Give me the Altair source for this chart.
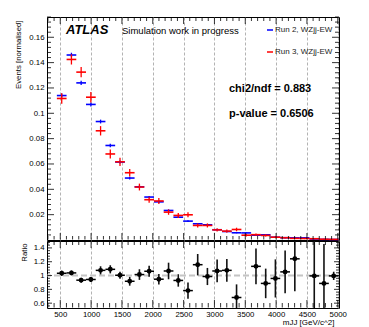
import altair as alt
import pandas as pd
import numpy as np

# ---------------- data ----------------
bin_edges = [445.0, 602.5, 760.0, 917.5, 1075.0, 1232.5, 1390.0, 1547.5, 1705.0, 1862.5,
             2020.0, 2177.5, 2335.0, 2492.5, 2650.0, 2807.5, 2965.0, 3122.5, 3280.0, 3437.5,
             3595.0, 3752.5, 3910.0, 4067.5, 4225.0, 4382.5, 4540.0, 4697.5, 4855.0, 5012.5]

run2_vals = [0.1140, 0.1460, 0.1240, 0.1070, 0.0935, 0.0746, 0.0615, 0.0489, 0.0420, 0.0339,
             0.0301, 0.0233, 0.0180, 0.0149, 0.0128, 0.0120, 0.0081, 0.0067, 0.0057, 0.0056,
             0.0038, 0.0041, 0.0022, 0.0018, 0.0017, 0.0017, 0.0008, 0.0005, 0.0004]
run2_errs = [0.0016, 0.0018, 0.0017, 0.0016, 0.0015, 0.0013, 0.0012, 0.0011, 0.0010, 0.0009,
             0.0009, 0.0008, 0.0007, 0.0006, 0.0006, 0.0006, 0.0005, 0.0004, 0.0004, 0.0004,
             0.0003, 0.0003, 0.0003, 0.0002, 0.0002, 0.0002, 0.0002, 0.0001, 0.0001]
run3_vals = [0.1117, 0.1425, 0.1325, 0.1127, 0.0862, 0.0679, 0.0617, 0.0531, 0.0418, 0.0318,
             0.0308, 0.0220, 0.0194, 0.0199, 0.0115, 0.0115, 0.0080, 0.0070, 0.0083, 0.0038,
             0.0042, 0.0036, 0.0022, 0.0018, 0.0013, 0.0012, 0.0010, 0.0006, 0.0005]
run3_errs = [0.0042, 0.0040, 0.0040, 0.0042, 0.0037, 0.0035, 0.0032, 0.0030, 0.0027, 0.0024,
             0.0024, 0.0021, 0.0020, 0.0020, 0.0016, 0.0016, 0.0013, 0.0012, 0.0014, 0.0010,
             0.0010, 0.0009, 0.0007, 0.0006, 0.0005, 0.0005, 0.0005, 0.0004, 0.0003]

ratio_vals = [1.033, 1.038, 0.933, 0.943, 1.075, 1.090, 1.004, 0.917, 1.014, 1.062,
              0.947, 1.066, 0.929, 0.782, 1.157, 0.986, 1.066, 1.075, 0.682, None,
              1.133, 0.886, 0.958, 1.053, 1.242, None, 0.995, 0.886, 0.995]
ratio_errs = [0.038, 0.035, 0.036, 0.036, 0.059, 0.059, 0.052, 0.064, 0.077, 0.079,
              0.077, 0.120, 0.090, 0.117, 0.155, 0.124, 0.165, 0.165, 0.190, None,
              0.260, 0.214, 0.276, 0.310, 0.470, None, 0.650, 0.570, 0.060]

series_names = ["Run 2, WZjj-EW", "Run 3, WZjj-EW"]
series_colors = ["#0000ff", "#ff0000"]

x_labels = [500, 1000, 1500, 2000, 2500, 3000, 3500, 4000, 4500, 5000]
y_main_labels = [0.02, 0.04, 0.06, 0.08, 0.10, 0.12, 0.14, 0.16]
y_ratio_labels = [0.6, 0.8, 1.0, 1.2, 1.4]

chi2_text = "chi2/ndf = 0.883"
pval_text = "p-value = 0.6506"

# ---------------- layout / style ----------------
W, H_MAIN, H_RATIO = 292, 223, 67
X_DOM = [285, 5020]
Y_MAIN_DOM = [0, 0.176]
Y_RATIO_DOM = [0.53, 1.5]
FONT = "Liberation Sans"

x_major_ticks = x_labels
x_minor_ticks = [v for v in range(300, 5001, 100) if v % 500 != 0]
y_main_major = [round(0.02 * i, 3) for i in range(0, 9)]
y_main_minor = [round(0.004 * i, 4) for i in range(0, 45) if i % 5 != 0]
y_ratio_major = y_ratio_labels
y_ratio_minor = [round(0.56 + 0.04 * i, 2) for i in range(0, 24)
                 if round(0.56 + 0.04 * i, 2) not in (0.6, 0.8, 1.0, 1.2, 1.4)]

lo = bin_edges[:-1]
hi = bin_edges[1:]
ctr = [(a + b) / 2 for a, b in zip(lo, hi)]

rows = []
for name, vals, errs in [(series_names[0], run2_vals, run2_errs), (series_names[1], run3_vals, run3_errs)]:
    for a, b, c, v, e in zip(lo, hi, ctr, vals, errs):
        rows.append(dict(run=name, lo=a, hi=b, c=c, v=v, vlo=v - e, vhi=v + e))
main_df = pd.DataFrame(rows)

rrows = []
for a, b, c, v, e in zip(lo, hi, ctr, ratio_vals, ratio_errs):
    if v is None:
        continue
    rrows.append(dict(lo=a, hi=b, c=c, r=v,
                      rlo=max(v - e, Y_RATIO_DOM[0]), rhi=min(v + e, Y_RATIO_DOM[1])))
ratio_df = pd.DataFrame(rrows)

grid_kw = dict(grid=True, gridDash=[3, 2], gridColor="#a0a0a0", gridWidth=0.8)

x_axis_main = alt.Axis(values=x_labels, labels=False, ticks=False, domain=False, title=None,
                       labelPadding=0, minExtent=0, maxExtent=0, **grid_kw)
x_axis_ratio = alt.Axis(values=x_labels, format="d", labels=True, ticks=False, domain=False,
                        labelFont=FONT, labelFontSize=7.8, labelPadding=2, labelFlush=False,
                        labelOverlap=False, labelColor="#000000",
                        title="mJJ [GeV/c^2]", titleFont=FONT, titleFontSize=8, titleFontWeight="normal",
                        titleX=287, titleY=14, titleAlign="right", titleBaseline="middle",
                        titleColor="#000000", **grid_kw)
y_axis_main = alt.Axis(values=y_main_labels, format=".2~f", ticks=False, domain=False, grid=False,
                       labelFont=FONT, labelFontSize=7.8, labelPadding=3, labelColor="#000000",
                       title="Events [normalised]", titleFont=FONT, titleFontSize=7.8,
                       titleFontWeight="normal", titleAngle=270, titleX=-28.5, titleY=3,
                       titleAlign="right", titleBaseline="middle", titleColor="#000000")
y_axis_ratio = alt.Axis(values=y_ratio_labels, format=".1~f", ticks=False, domain=False, grid=False,
                        labelFont=FONT, labelFontSize=7.8, labelPadding=3, labelColor="#000000",
                        title="Ratio", titleFont=FONT, titleFontSize=7.8,
                        titleFontWeight="normal", titleAngle=270, titleX=-22.5, titleY=2,
                        titleAlign="right", titleBaseline="middle", titleColor="#000000")


def X(field, axis):
    return alt.X(field, type="quantitative", scale=alt.Scale(domain=X_DOM, nice=False, zero=False), axis=axis)


def Ym(field):
    return alt.Y(field, type="quantitative", scale=alt.Scale(domain=Y_MAIN_DOM, nice=False, zero=False), axis=y_axis_main)


def Yr(field):
    return alt.Y(field, type="quantitative", scale=alt.Scale(domain=Y_RATIO_DOM, nice=False, zero=False), axis=y_axis_ratio)


color_enc = alt.Color("run:N", scale=alt.Scale(domain=series_names, range=series_colors),
                      legend=alt.Legend(title=None, orient="none", legendX=219, legendY=9,
                                        direction="vertical", symbolType="stroke", symbolSize=36,
                                        symbolStrokeWidth=1.5, labelFont=FONT, labelFontSize=8,
                                        labelOffset=1, rowPadding=14, padding=0,
                                        labelColor="#222222"))


def yticks(vals, Yf, length, side):
    df = pd.DataFrame({"t": vals})
    x0, x1 = (0, length) if side == "left" else (W - length, W)
    return alt.Chart(df).mark_rule(color="black", strokeWidth=0.8).encode(
        y=Yf("t"), x=alt.value(x0), x2=alt.value(x1))


def xticks(vals, H, length, side, xax):
    df = pd.DataFrame({"t": vals})
    y0, y1 = (0.5, length) if side == "top" else (H - length, H - 0.5)
    return alt.Chart(df).mark_rule(color="black", strokeWidth=0.8).encode(
        x=X("t", xax), y=alt.value(y0), y2=alt.value(y1))


def text_mark(txt, x, y, size, weight="normal", style="normal", color="black"):
    return alt.Chart(pd.DataFrame({"t": [txt]})).mark_text(
        align="left", baseline="alphabetic", font=FONT, fontSize=size,
        fontWeight=weight, fontStyle=style, color=color).encode(
        text="t:N", x=alt.value(x), y=alt.value(y))


# ---------------- main panel ----------------
base_main = alt.Chart(main_df)
hbars = base_main.mark_rule(strokeWidth=1.6).encode(
    x=X("lo", x_axis_main), x2="hi", y=Ym("v"), color=color_enc)
vbars = base_main.mark_rule(strokeWidth=1.3).encode(
    x=X("c", x_axis_main), y=Ym("vlo"), y2="vhi", color=color_enc)

main_layers = [hbars, vbars,
               yticks(y_main_major[1:], Ym, 7, "left"),
               yticks(y_main_minor, Ym, 4, "left"),
               yticks(y_main_major[1:], Ym, 7, "right"),
               yticks(y_main_minor, Ym, 4, "right"),
               xticks(x_major_ticks, H_MAIN, 7, "top", x_axis_main),
               xticks(x_minor_ticks, H_MAIN, 4, "top", x_axis_main),
               xticks(x_major_ticks, H_MAIN, 7, "bottom", x_axis_main),
               xticks(x_minor_ticks, H_MAIN, 4, "bottom", x_axis_main),
               text_mark("ATLAS", 19, 17.3, 13, weight="bold", style="italic"),
               text_mark("Simulation work in progress", 75, 17.3, 9.5),
               text_mark(chi2_text, 182, 75.3, 11, weight="bold"),
               text_mark(pval_text, 182, 99.7, 11, weight="bold")]
main = alt.layer(*main_layers).properties(width=W, height=H_MAIN)

# ---------------- ratio panel ----------------
base_ratio = alt.Chart(ratio_df)
one_line = alt.Chart(pd.DataFrame({"one": [1.0]})).mark_rule(
    color="#c4c4c4", strokeWidth=2, strokeDash=[6, 3]).encode(y=Yr("one"))
r_h = base_ratio.mark_rule(color="black", strokeWidth=1.5).encode(
    x=X("lo", x_axis_ratio), x2="hi", y=Yr("r"))
r_v = base_ratio.mark_rule(color="#111111", strokeWidth=1.6).encode(
    x=X("c", x_axis_ratio), y=Yr("rlo"), y2="rhi")
r_p = base_ratio.mark_point(filled=True, shape="circle", size=24, color="black", opacity=1).encode(
    x=X("c", x_axis_ratio), y=Yr("r"))

ratio_layers = [one_line, r_h, r_v, r_p,
                yticks(y_ratio_major, Yr, 5, "left"),
                yticks(y_ratio_minor, Yr, 3, "left"),
                yticks(y_ratio_major, Yr, 5, "right"),
                yticks(y_ratio_minor, Yr, 3, "right"),
                xticks(x_major_ticks, H_RATIO, 7, "top", x_axis_ratio),
                xticks(x_minor_ticks, H_RATIO, 4, "top", x_axis_ratio),
                xticks(x_major_ticks, H_RATIO, 8, "bottom", x_axis_ratio),
                xticks(x_minor_ticks, H_RATIO, 5, "bottom", x_axis_ratio)]
ratio = alt.layer(*ratio_layers).properties(width=W, height=H_RATIO)

chart = alt.vconcat(main, ratio, spacing=-3).resolve_scale(color="independent").resolve_legend(
    color="independent").properties(
    padding={"left": 6, "top": 8, "right": 5, "bottom": 0},
    background="white",
).configure_view(stroke="black", strokeWidth=1)

chart.save("out.html", embed_options={"renderer": "svg", "actions": False})
